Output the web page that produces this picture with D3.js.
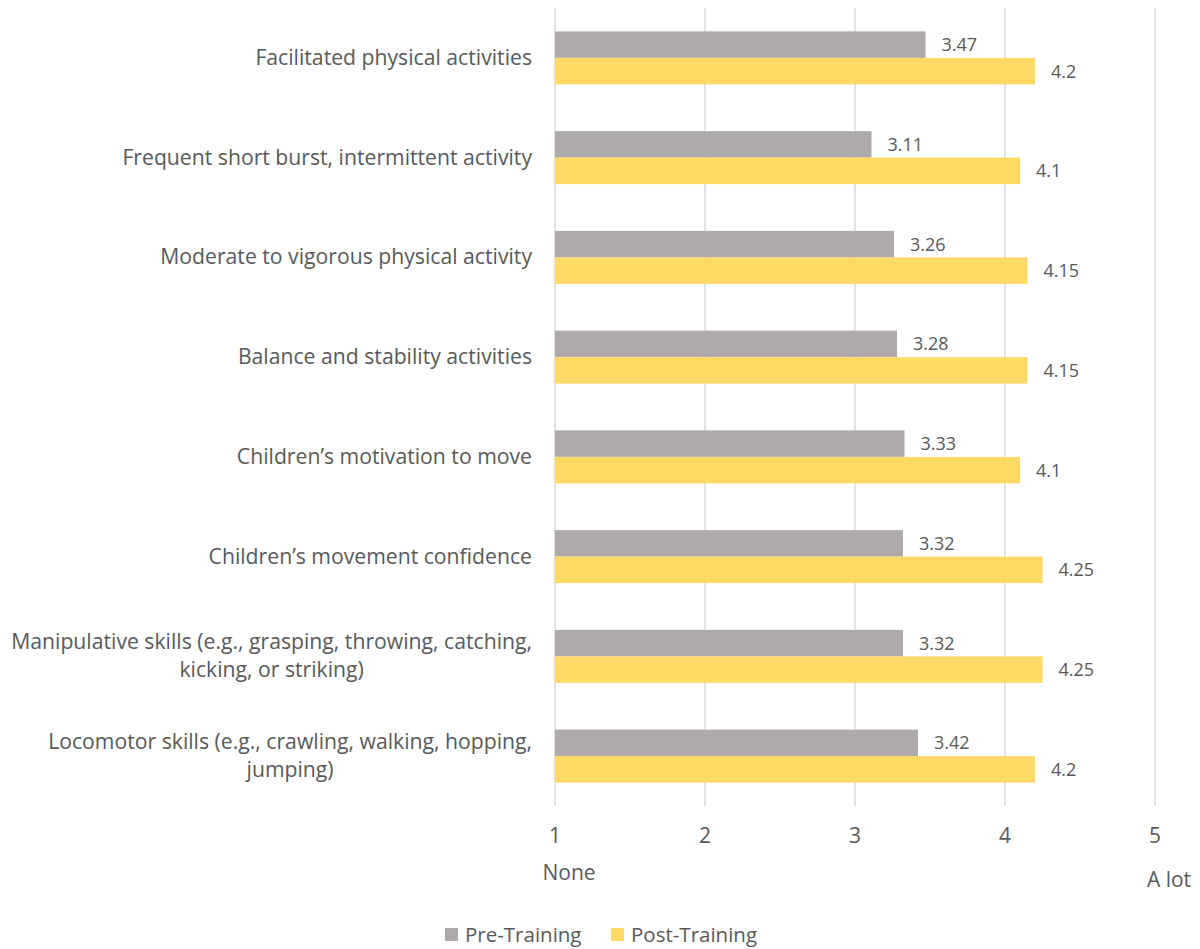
<!DOCTYPE html>
<meta charset="utf-8">
<head>
<style>
  body { margin: 0; background: #fff; }
  text { font-family: "Open Sans", sans-serif; fill: #595959; }
</style>
</head>
<body>
<script src="https://cdn.jsdelivr.net/npm/d3@7"></script>
<script>

var categories = [
  "Facilitated physical activities",
  "Frequent short burst, intermittent activity",
  "Moderate to vigorous physical activity",
  "Balance and stability activities",
  "Children\u2019s motivation to move",
  "Children\u2019s movement confidence",
  "Manipulative skills (e.g., grasping, throwing, catching,|kicking, or striking)",
  "Locomotor skills (e.g., crawling, walking, hopping,|jumping)"
];
var preTraining  = [3.47, 3.11, 3.26, 3.28, 3.33, 3.32, 3.32, 3.42];
var postTraining = [4.2, 4.1, 4.15, 4.15, 4.1, 4.25, 4.25, 4.2];
var xTicks = [1, 2, 3, 4, 5];
var seriesNames = ["Pre-Training", "Post-Training"];
var colors = ["#aeaaaa", "#ffd966"];

var width = 1200, height = 949;
var plot = {left: 555, right: 1155, top: 8, bottom: 806};
var fs = 20.5;

var svg = d3.select("body").append("svg")
  .attr("width", width)
  .attr("height", height);

var x = d3.scaleLinear().domain([1, 5]).range([plot.left, plot.right]);
var y = d3.scaleBand().domain(d3.range(categories.length)).range([plot.top, plot.bottom]);
var inner = d3.scaleBand().domain([0, 1]).range([0, 53]);

// gridlines
svg.selectAll(".grid")
  .data(xTicks)
  .enter().append("line")
  .attr("x1", d => x(d)).attr("x2", d => x(d))
  .attr("y1", plot.top).attr("y2", plot.bottom)
  .attr("stroke", "#d9d9d9")
  .attr("stroke-width", 1.5);

// axis tick labels
svg.selectAll(".tick")
  .data(xTicks)
  .enter().append("text")
  .attr("x", d => x(d))
  .attr("y", 843)
  .attr("text-anchor", "middle")
  .style("font-size", "21px")
  .text(d => d);

svg.append("text").attr("x", x(1) + 14).attr("y", 880)
  .attr("text-anchor", "middle").style("font-size", "21px").text("None");
svg.append("text").attr("x", x(5) + 14).attr("y", 887)
  .attr("text-anchor", "middle").style("font-size", "21px").text("A lot");

var series = [preTraining, postTraining];

series.forEach(function(vals, s) {
  var g = svg.append("g");
  g.selectAll("rect")
    .data(vals)
    .enter().append("rect")
    .attr("x", x(1))
    .attr("y", (d, i) => y(i) + (y.bandwidth() - 53) / 2 + inner(s))
    .attr("width", d => x(d) - x(1))
    .attr("height", inner.bandwidth())
    .attr("fill", colors[s]);

  g.selectAll("text")
    .data(vals)
    .enter().append("text")
    .attr("x", d => x(d) + 16)
    .attr("y", (d, i) => y(i) + (y.bandwidth() - 53) / 2 + inner(s) + inner.bandwidth() / 2 + 6.5)
    .style("font-size", "18px")
    .text(d => d);
});

// category labels
categories.forEach(function(c, i) {
  var lines = c.split("|");
  var t = svg.append("text")
    .attr("text-anchor", "middle")
    .style("font-size", "21.2px");
  var cy = y(i) + y.bandwidth() / 2;
  var lh = 28;
  lines.forEach(function(l, j) {
    t.append("tspan").attr("x", 0)
      .attr("y", cy + 7 + (j - (lines.length - 1) / 2) * lh)
      .text(l);
  });
  var w = d3.max(t.selectAll("tspan").nodes(), n => n.getComputedTextLength());
  t.selectAll("tspan").attr("x", 532 - w / 2);
});

// legend
var legendX = [445, 611];
seriesNames.forEach(function(n, s) {
  svg.append("rect")
    .attr("x", legendX[s]).attr("y", 928)
    .attr("width", 13).attr("height", 13)
    .attr("fill", colors[s]);
  svg.append("text")
    .attr("x", legendX[s] + 20).attr("y", 942)
    .style("font-size", fs + "px")
    .text(n);
});

</script>
</body>
